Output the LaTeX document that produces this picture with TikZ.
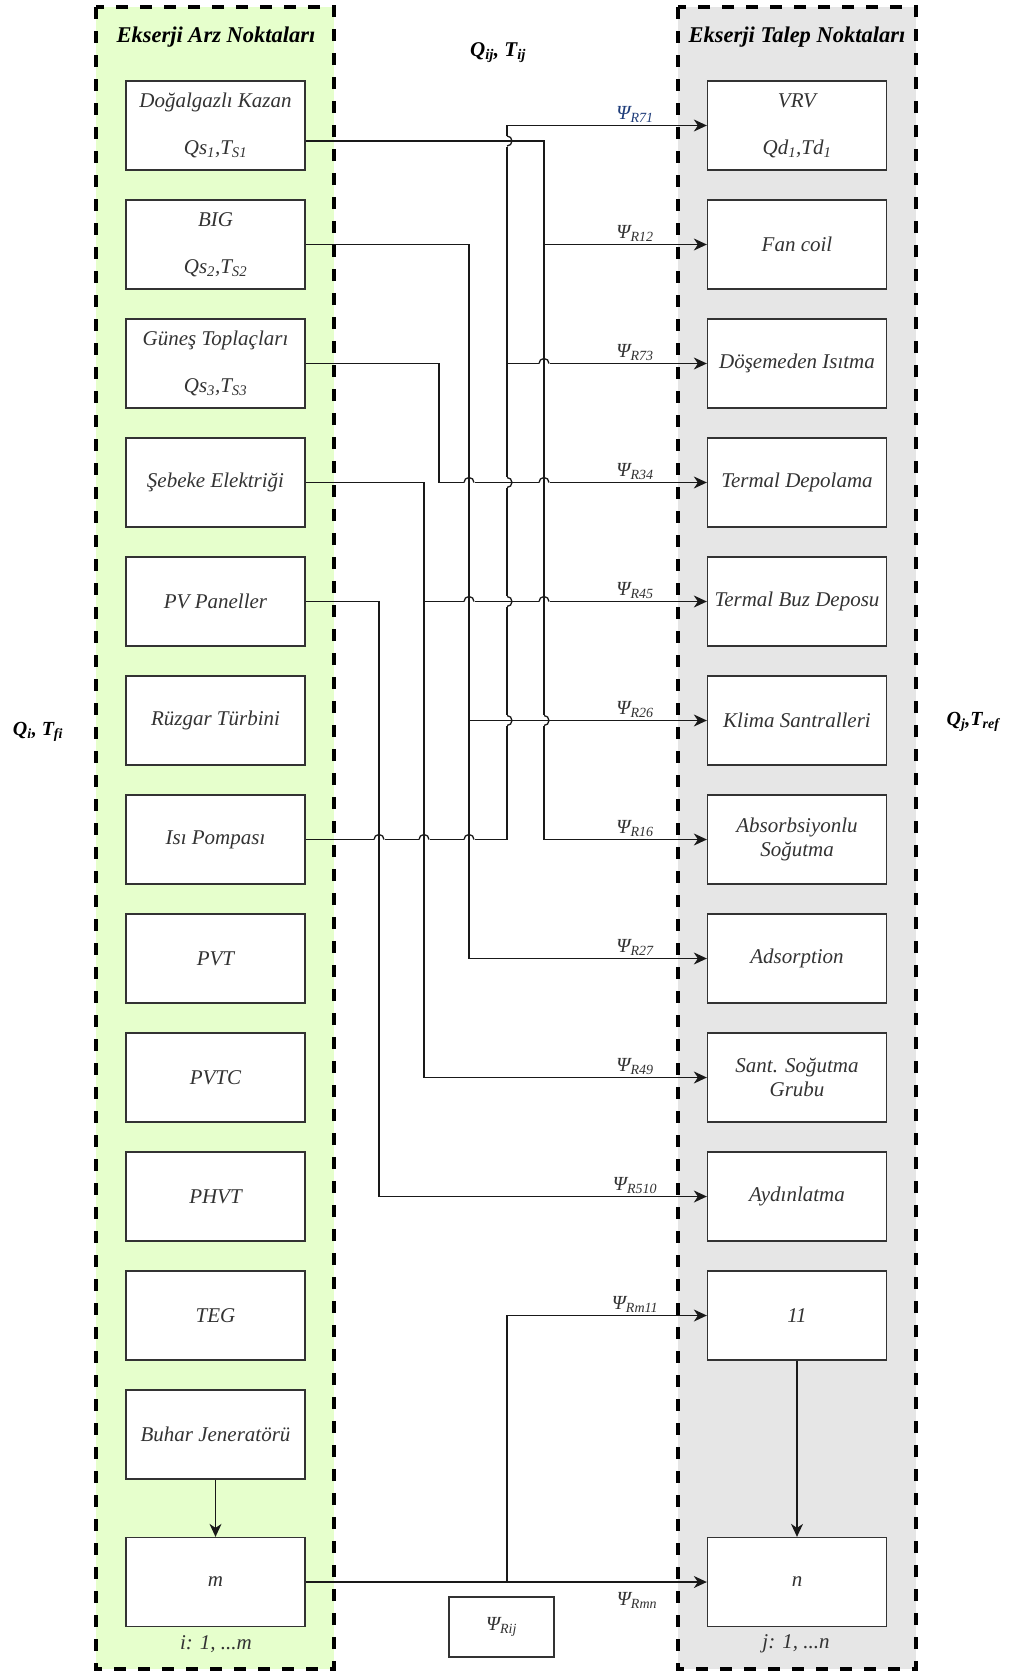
\documentclass[tikz,border=0pt]{standalone}
\usepackage{fontspec}
\setmainfont{Liberation Serif}
\usetikzlibrary{arrows.meta,calc}
\definecolor{arzgreen}{HTML}{E6FFCC}
\definecolor{talepgray}{HTML}{E6E6E6}
\definecolor{txtgray}{HTML}{333333}
\definecolor{psiblue}{HTML}{1F3D7A}

\tikzset{
  group/.style={draw=black,line width=4.5pt,dash pattern=on 12pt off 12pt},
  title/.style={font=\fontsize{22.5}{26}\selectfont\bfseries\itshape},
  box/.style={draw=txtgray,line width=1.3pt,fill=white,minimum width=179pt,
    minimum height=89pt,inner sep=0pt,align=center,text=txtgray,
    font=\fontsize{21}{24}\selectfont\itshape},
  conn/.style={line width=1.3pt,draw=black!90},
  flow/.style={conn,-{Stealth[length=13pt,width=12pt,inset=4pt]}},
  psi/.style={font=\fontsize{20}{22}\selectfont\itshape,text=txtgray,inner sep=1pt},
}

% line hops where two connectors cross
\newcommand{\hjump}[2]{% horizontal one hops up
  \draw[white,line width=3pt] (#1-5.5,#2) -- (#1+5.5,#2);
  \draw[conn] (#1,#2-3) -- (#1,#2+3);
  \draw[conn] (#1-5,#2) arc[start angle=180,end angle=360,radius=5];}
\newcommand{\vjump}[2]{% vertical one hops right
  \draw[white,line width=3pt] (#1,#2-5.5) -- (#1,#2+5.5);
  \draw[conn] (#1-3,#2) -- (#1+3,#2);
  \draw[conn] (#1,#2-5) arc[start angle=-90,end angle=90,radius=5];}

\begin{document}
\begin{tikzpicture}[x=1pt,y=-1pt]
  \useasboundingbox[fill=white] (0,0) rectangle (1012,1673);

  % supply and demand groups
  \draw[group,fill=arzgreen] (96,7) rectangle (334,1669);
  \draw[group,fill=talepgray] (678,7) rectangle (916,1669);
  \node[title] (arz) at (216,37) {Ekserji Arz Noktaları};
  \node[title] (talep) at (797,37) {Ekserji Talep Noktaları};

  \node[title,font=\fontsize{21}{24}\selectfont\bfseries\itshape] (qij) at (498,53) {Q\textsubscript{ij}, T\textsubscript{ij}};
  \node[title,font=\fontsize{20}{22}\selectfont\bfseries\itshape] (qi) at (38,732) {Q\textsubscript{i}, T\textsubscript{fi}};
  \node[title,font=\fontsize{20}{22}\selectfont\bfseries\itshape] (qj) at (973,722) {Q\textsubscript{j},T\textsubscript{ref}};

  % supply points
  \node[box] (dk) at (215.5,125.5) {Doğalgazlı Kazan\\[23pt]Qs\textsubscript{1},T\textsubscript{S1}};
  \node[box] (big) at (215.5,244.5) {BIG\\[23pt]Qs\textsubscript{2},T\textsubscript{S2}};
  \node[box] (gt) at (215.5,363.5) {Güneş Toplaçları\\[23pt]Qs\textsubscript{3},T\textsubscript{S3}};
  \node[box] (se) at (215.5,482.5) {Şebeke Elektriği};
  \node[box] (pv) at (215.5,601.5) {PV Paneller};
  \node[box] (rt) at (215.5,720.5) {Rüzgar Türbini};
  \node[box] (ip) at (215.5,839.5) {Isı Pompası};
  \node[box] (pvt) at (215.5,958.5) {PVT};
  \node[box] (pvtc) at (215.5,1077.5) {PVTC};
  \node[box] (phvt) at (215.5,1196.5) {PHVT};
  \node[box] (teg) at (215.5,1315.5) {TEG};
  \node[box] (bj) at (215.5,1434.5) {Buhar Jeneratörü};
  \node[box] (sm) at (215.5,1582) {m};
  \node[text=txtgray,font=\fontsize{21}{24}\selectfont\itshape] (icnt) at (216,1644) {i: 1, ...m};

  % demand points
  \node[box] (vrv) at (797,125.5) {VRV\\[23pt]Qd\textsubscript{1},Td\textsubscript{1}};
  \node[box] (fc) at (797,244.5) {Fan coil};
  \node[box] (di) at (797,363.5) {Döşemeden Isıtma};
  \node[box] (td) at (797,482.5) {Termal Depolama};
  \node[box] (tbd) at (797,601.5) {Termal Buz Deposu};
  \node[box] (ks) at (797,720.5) {Klima Santralleri};
  \node[box] (abs) at (797,839.5) {Absorbsiyonlu\\Soğutma};
  \node[box] (ads) at (797,958.5) {Adsorption};
  \node[box] (ssg) at (797,1077.5) {Sant. Soğutma\\Grubu};
  \node[box] (ayd) at (797,1196.5) {Aydınlatma};
  \node[box] (d11) at (797,1315.5) {11};
  \node[box] (dn) at (797,1582) {n};
  \node[text=txtgray,font=\fontsize{21}{24}\selectfont\itshape] (jcnt) at (796,1644) {j: 1, ...n};

  \node[box,minimum width=105pt,minimum height=60pt,font=\fontsize{20}{22}\selectfont\itshape] (rij) at (501.5,1627) {Ψ\textsubscript{Rij}};

  % bus lines
  \coordinate (busPV) at (379,0);
  \coordinate (busSE) at (424,0);
  \coordinate (busGT) at (439,0);
  \coordinate (busBIG) at (469,0);
  \coordinate (busIP) at (507,0);
  \coordinate (busDK) at (544,0);

  \draw[flow] ([yshift=-15.5pt]dk.east) -| (abs.west -| busDK) -- (abs.west);
  \draw[flow] (fc.west -| busDK) -- (fc.west);
  \draw[flow] (big.east) -| (ads.west -| busBIG) -- (ads.west);
  \draw[flow] (ks.west -| busBIG) -- (ks.west);
  \draw[flow] (gt.east) -| (td.west -| busGT) -- (td.west);
  \draw[flow] (se.east) -| (ssg.west -| busSE) -- (ssg.west);
  \draw[flow] (tbd.west -| busSE) -- (tbd.west);
  \draw[flow] (pv.east) -| (ayd.west -| busPV) -- (ayd.west);
  \draw[flow] (ip.east) -| (vrv.west -| busIP) -- (vrv.west);
  \draw[flow] (di.west -| busIP) -- (di.west);
  \draw[flow] (sm.east) -- (dn.west);
  \draw[flow] (sm.east -| busIP) |- (d11.west);
  \draw[flow] (bj.south) -- (sm.north);
  \draw[flow] (d11.south) -- (dn.north);

  % crossings
  \vjump{507}{141}
  \hjump{544}{363.5}
  \hjump{469}{482.5} \vjump{507}{482.5} \hjump{544}{482.5}
  \hjump{469}{601.5} \vjump{507}{601.5} \hjump{544}{601.5}
  \vjump{507}{720.5} \vjump{544}{720.5}
  \hjump{379}{839.5} \hjump{424}{839.5} \hjump{469}{839.5}

  % exergy labels
  \node[psi,anchor=south,text=psiblue] (l71) at (635,124) {Ψ\textsubscript{R71}};
  \node[psi,anchor=south] (l12) at (635,243) {Ψ\textsubscript{R12}};
  \node[psi,anchor=south] (l73) at (635,362) {Ψ\textsubscript{R73}};
  \node[psi,anchor=south] (l34) at (635,481) {Ψ\textsubscript{R34}};
  \node[psi,anchor=south] (l45) at (635,600) {Ψ\textsubscript{R45}};
  \node[psi,anchor=south] (l26) at (635,719) {Ψ\textsubscript{R26}};
  \node[psi,anchor=south] (l16) at (635,838) {Ψ\textsubscript{R16}};
  \node[psi,anchor=south] (l27) at (635,957) {Ψ\textsubscript{R27}};
  \node[psi,anchor=south] (l49) at (635,1076) {Ψ\textsubscript{R49}};
  \node[psi,anchor=south] (l510) at (635,1195) {Ψ\textsubscript{R510}};
  \node[psi,anchor=south] (lm11) at (635,1314) {Ψ\textsubscript{Rm11}};
  \node[psi,anchor=north] (lmn) at (637,1591) {Ψ\textsubscript{Rmn}};
\end{tikzpicture}
\end{document}
